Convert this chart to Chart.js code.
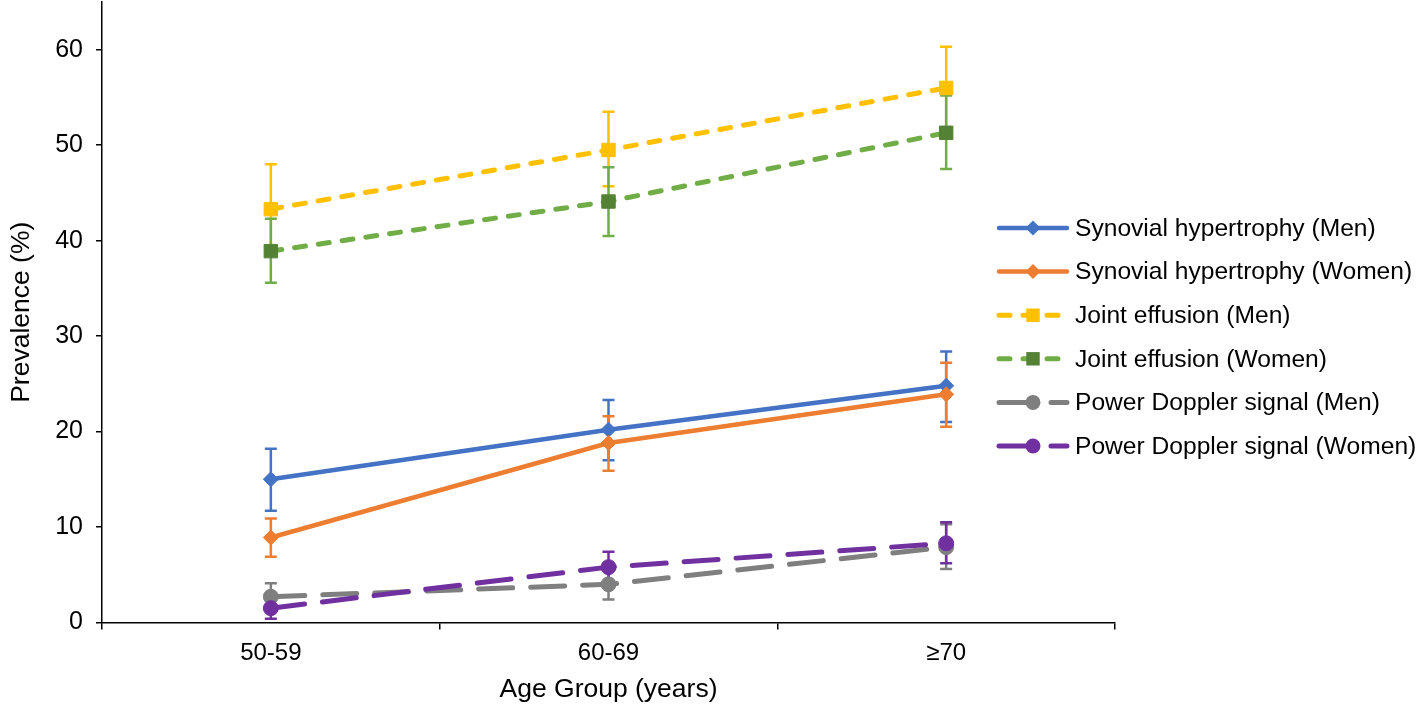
<!DOCTYPE html>
<html>
<head>
<meta charset="utf-8">
<script src="https://cdn.jsdelivr.net/npm/chart.js@4.4.1/dist/chart.umd.min.js"></script>
<style>
    html, body { margin: 0; padding: 0; background: #fff; }
    #wrap { width: 1418px; height: 713px; position: relative; }
</style>
</head>
<body>
<div id="wrap"><canvas id="chart"></canvas></div>
<script>
    // ── Data ───────────────────────────────────
    const categories = ['50-59', '60-69', '≥70'];
    const yTicks = [0, 10, 20, 30, 40, 50, 60];

    const synMen      = [15.0, 20.2, 24.8];
    const synMenLo    = [11.7, 17.0, 21.0];
    const synMenHi    = [18.2, 23.3, 28.4];
    const synWomen    = [8.9, 18.8, 23.9];
    const synWomenLo  = [6.9, 15.9, 20.5];
    const synWomenHi  = [10.9, 21.6, 27.2];
    const effMen      = [43.3, 49.5, 56.0];
    const effMenLo    = [38.8, 45.7, 51.8];
    const effMenHi    = [48.0, 53.5, 60.3];
    const effWomen    = [38.9, 44.1, 51.3];
    const effWomenLo  = [35.6, 40.5, 47.5];
    const effWomenHi  = [42.3, 47.7, 55.2];
    const pdMen       = [2.7, 4.0, 7.9];
    const pdMenLo     = [1.3, 2.4, 5.6];
    const pdMenHi     = [4.1, 5.6, 10.3];
    const pdWomen     = [1.5, 5.8, 8.3];
    const pdWomenLo   = [0.4, 4.2, 6.2];
    const pdWomenHi   = [2.6, 7.4, 10.5];

    const FONT = '"Liberation Sans", Arial, sans-serif';
    const TEXT = '#000000';

    function series(label, data, lo, hi, line, marker, style, radius, dash) {
        return {
            label, data, errLo: lo, errHi: hi, errColor: line,
            borderColor: line,
            backgroundColor: marker,
            pointBackgroundColor: marker,
            pointBorderColor: marker,
            pointBorderWidth: 1,
            pointStyle: style,
            pointRadius: radius,
            pointHoverRadius: radius,
            borderWidth: dash ? 5 : 4.5,
            borderDash: dash || [],
            borderCapStyle: 'round',
            tension: 0,
            fill: false
        };
    }

    const datasets = [
        series('Synovial hypertrophy (Men)', synMen, synMenLo, synMenHi, '#4472C4', '#4472C4', 'rectRot', 7.5, null),
        series('Synovial hypertrophy (Women)', synWomen, synWomenLo, synWomenHi, '#ED7D31', '#ED7D31', 'rectRot', 7.5, null),
        series('Joint effusion (Men)', effMen, effMenLo, effMenHi, '#FFC000', '#FFC000', 'rect', 9.5, [11, 13]),
        series('Joint effusion (Women)', effWomen, effWomenLo, effWomenHi, '#70AD47', '#548235', 'rect', 9.5, [11, 13]),
        series('Power Doppler signal (Men)', pdMen, pdMenLo, pdMenHi, '#7F7F7F', '#7F7F7F', 'circle', 7.5, [34, 18]),
        series('Power Doppler signal (Women)', pdWomen, pdWomenLo, pdWomenHi, '#7030A0', '#7030A0', 'circle', 7.5, [34, 18])
    ];
    datasets.forEach((d, i) => { d.order = datasets.length - i; });

    // ── Error bars ─────────────────────────────
    const errorBars = {
        id: 'errorBars',
        beforeDatasetsDraw(chart) {
            const ctx = chart.ctx;
            const y = chart.scales.y;
            ctx.save();
            chart.data.datasets.forEach((ds, di) => {
                const meta = chart.getDatasetMeta(di);
                ctx.strokeStyle = ds.errColor;
                ctx.lineWidth = 2.5;
                ctx.setLineDash([]);
                meta.data.forEach((pt, i) => {
                    const top = y.getPixelForValue(ds.errHi[i]);
                    const bot = y.getPixelForValue(ds.errLo[i]);
                    ctx.beginPath();
                    ctx.moveTo(pt.x, top); ctx.lineTo(pt.x, bot);
                    ctx.moveTo(pt.x - 6, top); ctx.lineTo(pt.x + 6, top);
                    ctx.moveTo(pt.x - 6, bot); ctx.lineTo(pt.x + 6, bot);
                    ctx.stroke();
                });
            });
            ctx.restore();
        }
    };

    // ── Legend (right side) ────────────────────
    function drawMarker(ctx, style, x, y, r, color) {
        ctx.fillStyle = color;
        ctx.beginPath();
        if (style === 'rectRot') {
            ctx.moveTo(x - r, y); ctx.lineTo(x, y - r); ctx.lineTo(x + r, y); ctx.lineTo(x, y + r);
            ctx.closePath();
        } else if (style === 'rect') {
            const s = r * Math.SQRT1_2;
            ctx.rect(x - s, y - s, 2 * s, 2 * s);
        } else {
            ctx.arc(x, y, r, 0, Math.PI * 2);
        }
        ctx.fill();
    }

    const sideLegend = {
        id: 'sideLegend',
        afterDraw(chart) {
            const ctx = chart.ctx;
            ctx.save();
            ctx.font = '24.6px ' + FONT;
            ctx.textBaseline = 'middle';
            ctx.fillStyle = TEXT;
            chart.data.datasets.forEach((ds, i) => {
                const y = 228 + i * 43.6;
                ctx.strokeStyle = ds.borderColor;
                ctx.lineWidth = ds.borderWidth;
                ctx.lineCap = 'round';
                ctx.setLineDash(ds.borderDash);
                ctx.beginPath();
                ctx.moveTo(999, y); ctx.lineTo(1067, y);
                ctx.stroke();
                ctx.setLineDash([]);
                drawMarker(ctx, ds.pointStyle, 1033, y, ds.pointRadius, ds.pointBackgroundColor);
                ctx.fillStyle = TEXT;
                ctx.fillText(ds.label, 1075, y + 1);
            });
            ctx.restore();
        }
    };

    // ── Chart ──────────────────────────────────
    new Chart(document.getElementById('chart'), {
        type: 'line',
        data: { labels: categories, datasets },
        plugins: [errorBars, sideLegend],
        options: {
            responsive: true,
            maintainAspectRatio: false,
            animation: false,
            layout: { autoPadding: false, padding: { left: 0, right: 303, top: 2, bottom: 0 } },
            plugins: { legend: { display: false }, tooltip: { enabled: false } },
            scales: {
                x: {
                    type: 'category',
                    offset: true,
                    border: { color: '#000', width: 1.5 },
                    grid: { offset: true, drawOnChartArea: false, color: '#000', lineWidth: 1.5, tickLength: 7 },
                    ticks: { color: TEXT, font: { family: FONT, size: 24 }, padding: 9, maxRotation: 0 },
                    title: { display: true, text: 'Age Group (years)', color: TEXT, font: { family: FONT, size: 26.5 }, padding: { top: 4, bottom: 7 } },
                    afterFit: s => { s.height = 90.5; }
                },
                y: {
                    min: 0,
                    max: 65,
                    border: { color: '#000', width: 1.5 },
                    grid: { drawOnChartArea: false, color: '#000', lineWidth: 1.5, tickLength: 6 },
                    afterBuildTicks: s => { s.ticks = yTicks.map(v => ({ value: v })); },
                    ticks: { color: TEXT, font: { family: FONT, size: 25 }, padding: 13 },
                    title: { display: true, text: 'Prevalence (%)', color: TEXT, font: { family: FONT, size: 26.5 }, padding: { top: 6, bottom: 0 } },
                    afterFit: s => { s.width = 102; s.paddingTop = 0; s.paddingBottom = 0; }
                }
            }
        }
    });
</script>
</body>
</html>
